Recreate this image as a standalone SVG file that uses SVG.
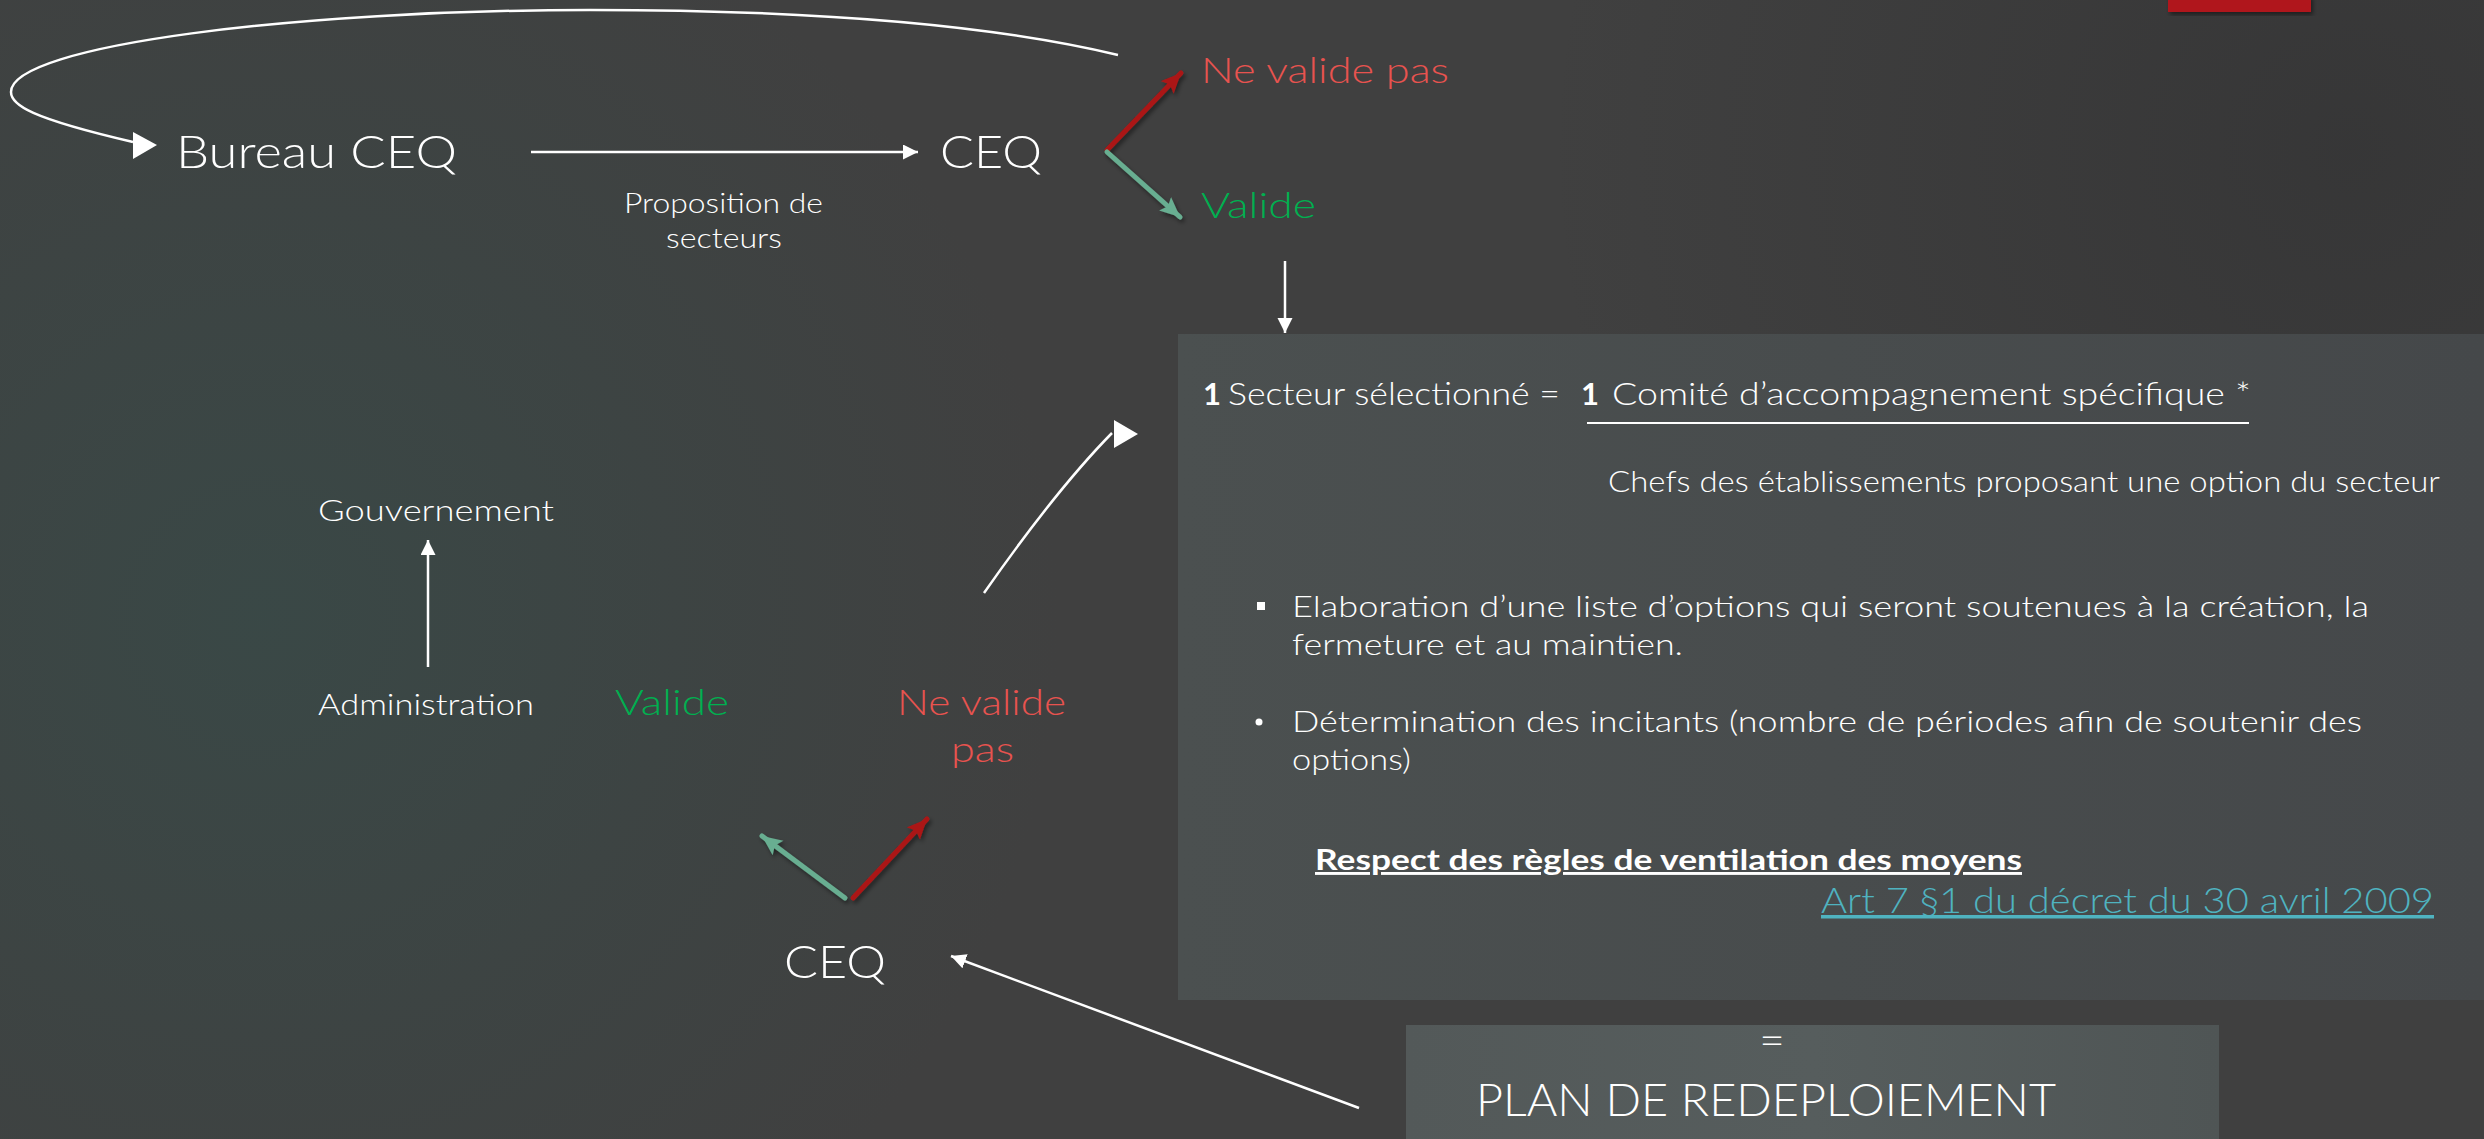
<svg xmlns="http://www.w3.org/2000/svg" width="2484" height="1139" viewBox="0 0 2484 1139">
<defs>
<radialGradient id="teal" cx="260" cy="620" r="800" gradientUnits="userSpaceOnUse">
<stop offset="0" stop-color="#394947" stop-opacity="0.9"/>
<stop offset="1" stop-color="#394947" stop-opacity="0"/>
</radialGradient>
<radialGradient id="dark" cx="2350" cy="150" r="800" gradientUnits="userSpaceOnUse">
<stop offset="0" stop-color="#303031" stop-opacity="0.6"/>
<stop offset="1" stop-color="#303031" stop-opacity="0"/>
</radialGradient>
<linearGradient id="box" x1="0" y1="0" x2="1" y2="0">
<stop offset="0" stop-color="#535959"/>
<stop offset="0.5" stop-color="#565d5d"/>
<stop offset="1" stop-color="#4f5555"/>
</linearGradient>
<linearGradient id="pan" x1="0" y1="0" x2="1" y2="0">
<stop offset="0" stop-color="#4b5050"/>
<stop offset="1" stop-color="#45484a"/>
</linearGradient>
<filter id="sh" x="-20%" y="-20%" width="140%" height="140%">
<feDropShadow dx="2" dy="3" stdDeviation="2" flood-color="#000" flood-opacity="0.45"/>
</filter>
<marker id="aw" markerUnits="userSpaceOnUse" markerWidth="16" markerHeight="16" refX="15" refY="7.5" orient="auto">
<path d="M0,0 L15,7.5 L0,15 z" fill="#fff"/>
</marker>
<marker id="ar" markerUnits="userSpaceOnUse" markerWidth="22" markerHeight="22" refX="20" refY="9" orient="auto">
<path d="M0,0 L20,9 L0,18 L4,9 z" fill="#ab1616"/>
</marker>
<marker id="ag" markerUnits="userSpaceOnUse" markerWidth="22" markerHeight="22" refX="20" refY="9" orient="auto">
<path d="M0,0 L20,9 L0,18 L4,9 z" fill="#68ae91"/>
</marker>
<style>
text{font-family:Lato,"Liberation Sans",Arial,sans-serif;font-weight:300;}
.b{font-weight:bold;}
.w{fill:#ffffff;}
.r{fill:#e8534f;}
.g{fill:#00b050;}
.c{fill:none;stroke:#fff;stroke-width:2.5;}
.cr{fill:none;stroke:#ab1616;stroke-width:5;stroke-linecap:round;filter:url(#sh);}
.cg{fill:none;stroke:#68ae91;stroke-width:5;stroke-linecap:round;filter:url(#sh);}
</style>
</defs>
<rect x="0" y="0" width="2484" height="1139" fill="#404040"/>
<rect x="0" y="0" width="2484" height="1139" fill="url(#teal)"/>
<rect x="0" y="0" width="2484" height="1139" fill="url(#dark)"/>
<rect x="2168" y="-5" width="143" height="17" fill="#b0171a" filter="url(#sh)"/>

<g id="panel">
<rect x="1178" y="334" width="1306" height="666" fill="url(#pan)"/>
</g>

<g id="connectors">
<path class="c" d="M1118 55 C980 22 800 10 590 10 C300 10 11 45 11 92 C11 105 30 118 133 142"/>
<polygon points="133,132 157,145 133,159" fill="#fff"/>
<line class="c" x1="531" y1="152" x2="918" y2="152" marker-end="url(#aw)"/>
<line class="cr" x1="1107" y1="150" x2="1181" y2="73" marker-end="url(#ar)"/>
<line class="cg" x1="1107" y1="152" x2="1180" y2="217" marker-end="url(#ag)"/>
<line class="c" x1="1285" y1="261" x2="1285" y2="333" marker-end="url(#aw)"/>
<line class="c" x1="428" y1="667" x2="428" y2="540" marker-end="url(#aw)"/>
<path class="c" d="M984 593 Q1056 490 1112 433"/>
<polygon points="1114,420 1138,434 1114,448" fill="#fff"/>
<line class="cg" x1="845" y1="898" x2="762" y2="836" marker-end="url(#ag)"/>
<line class="cr" x1="853" y1="898" x2="927" y2="819" marker-end="url(#ar)"/>
<line class="c" x1="1359" y1="1108" x2="951" y2="956" marker-end="url(#aw)"/>
</g>

<g id="bureau">
<text class="w" x="176" y="168" font-size="46" textLength="281" lengthAdjust="spacingAndGlyphs">Bureau CEQ</text>
</g>
<g id="ceq-top">
<text class="w" x="940" y="168" font-size="46" textLength="102" lengthAdjust="spacingAndGlyphs">CEQ</text>
</g>
<g id="label-proposition">
<text class="w" x="624" y="213" font-size="27" textLength="199" lengthAdjust="spacingAndGlyphs">Proposition de</text>
<text class="w" x="666" y="248" font-size="27" textLength="116" lengthAdjust="spacingAndGlyphs">secteurs</text>
</g>
<g id="ne-valide-top">
<text class="r" x="1201" y="83" font-size="35" textLength="248" lengthAdjust="spacingAndGlyphs">Ne valide pas</text>
</g>
<g id="valide-top">
<text class="g" x="1201" y="218" font-size="35" textLength="115" lengthAdjust="spacingAndGlyphs">Valide</text>
</g>

<g id="secteur">
<text class="w b" x="1203" y="405" font-size="31">1</text>
<text class="w" x="1228" y="405" font-size="31" textLength="332" lengthAdjust="spacingAndGlyphs">Secteur sélectionné =</text>
<text class="w b" x="1581" y="405" font-size="31">1</text>
<text class="w" x="1612" y="405" font-size="31" textLength="639" lengthAdjust="spacingAndGlyphs">Comité d’accompagnement spécifique *</text>
<line x1="1587" y1="423" x2="2249" y2="423" stroke="#fff" stroke-width="2"/>
<text class="w" x="1608" y="492" font-size="29" textLength="832" lengthAdjust="spacingAndGlyphs">Chefs des établissements proposant une option du secteur</text>
</g>

<g id="bullets">
<rect x="1257" y="602" width="8" height="8" fill="#fff"/>
<text class="w" x="1292" y="617" font-size="30" textLength="1077" lengthAdjust="spacingAndGlyphs">Elaboration d’une liste d’options qui seront soutenues à la création, la</text>
<text class="w" x="1292" y="655" font-size="30" textLength="391" lengthAdjust="spacingAndGlyphs">fermeture et au maintien.</text>
<circle cx="1259" cy="722" r="3.5" fill="#fff"/>
<text class="w" x="1292" y="732" font-size="30" textLength="1070" lengthAdjust="spacingAndGlyphs">Détermination des incitants (nombre de périodes afin de soutenir des</text>
<text class="w" x="1292" y="770" font-size="30" textLength="119" lengthAdjust="spacingAndGlyphs">options)</text>
<text class="w b" x="1315" y="870" font-size="29" text-decoration="underline" textLength="707" lengthAdjust="spacingAndGlyphs">Respect des règles de ventilation des moyens</text>
<text x="1821" y="913" font-size="35" fill="#4fb3c0" text-decoration="underline" textLength="613" lengthAdjust="spacingAndGlyphs">Art 7 §1 du décret du 30 avril 2009</text>
</g>

<g id="plan">
<rect x="1406" y="1025" width="813" height="120" fill="url(#box)"/>
<text class="w" x="1772" y="1056" font-size="44" font-weight="400" text-anchor="middle">=</text>
<text class="w" x="1476" y="1116" font-size="46" textLength="580" lengthAdjust="spacingAndGlyphs">PLAN DE REDEPLOIEMENT</text>
</g>

<g id="ceq-bottom">
<text class="w" x="784" y="978" font-size="46" textLength="102" lengthAdjust="spacingAndGlyphs">CEQ</text>
</g>
<g id="valide-bottom">
<text class="g" x="615" y="715" font-size="36" textLength="114" lengthAdjust="spacingAndGlyphs">Valide</text>
</g>
<g id="ne-valide-bottom">
<text class="r" x="897" y="715" font-size="36" textLength="169" lengthAdjust="spacingAndGlyphs">Ne valide</text>
<text class="r" x="951" y="762" font-size="36" textLength="63" lengthAdjust="spacingAndGlyphs">pas</text>
</g>
<g id="gouvernement">
<text class="w" x="318" y="521" font-size="29" textLength="236" lengthAdjust="spacingAndGlyphs">Gouvernement</text>
</g>
<g id="administration">
<text class="w" x="318" y="715" font-size="29" textLength="216" lengthAdjust="spacingAndGlyphs">Administration</text>
</g>
</svg>
